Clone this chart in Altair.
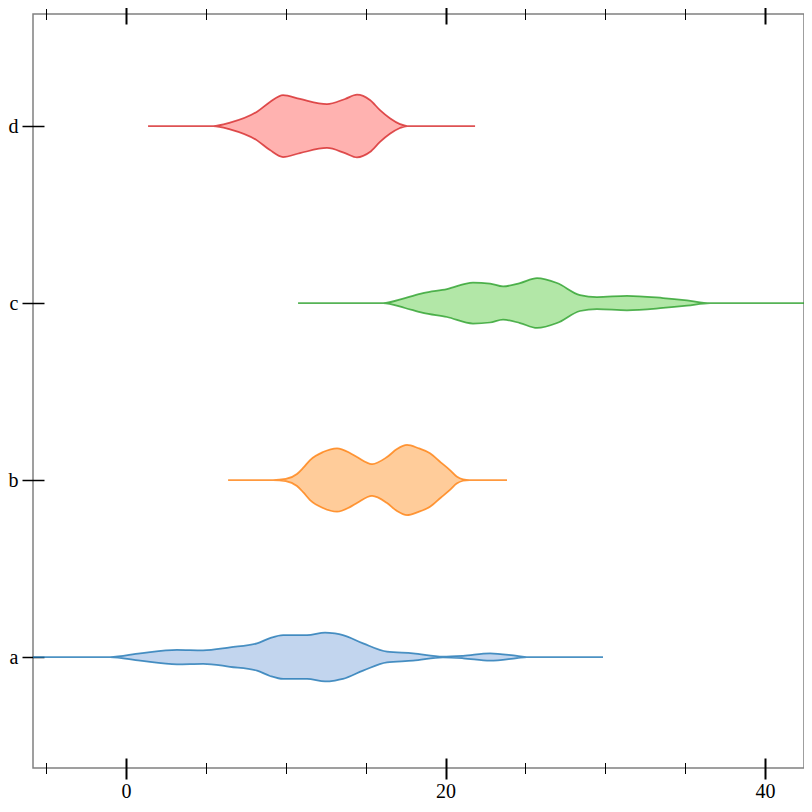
import altair as alt
import pandas as pd

categories = ["a", "b", "c", "d"]

# violin profiles: x position (data units) and half-width (in category steps)
a_x = [-6.5, -1.00, 0.88, 3.19, 4.82, 6.51, 8.20, 9.01, 9.83, 11.33, 12.46, 13.08, 13.58, 14.84, 16.34, 17.97, 19.84, 21.10, 22.79, 24.48, 25.10, 29.86]
a_w = [0, 0, 0.021, 0.041, 0.038, 0.055, 0.077, 0.107, 0.124, 0.124, 0.138, 0.133, 0.124, 0.077, 0.030, 0.021, 0.002, 0.007, 0.021, 0.006, 0, 0]

b_x = [6.39, 9.20, 10.00, 10.70, 11.10, 11.52, 12.33, 13.21, 14.02, 14.46, 15.40, 16.34, 16.96, 17.59, 18.28, 19.03, 19.70, 20.28, 20.70, 21.10, 21.50, 23.85]
b_w = [0, 0, 0.006, 0.034, 0.070, 0.113, 0.158, 0.179, 0.153, 0.130, 0.090, 0.130, 0.175, 0.198, 0.181, 0.151, 0.100, 0.056, 0.020, 0.004, 0, 0]

c_x = [10.77, 16.09, 17.46, 18.59, 20.09, 21.72, 22.79, 23.60, 24.66, 25.73, 26.98, 28.42, 29.48, 31.36, 33.62, 35.12, 36.56, 43.5]
c_w = [0, 0, 0.028, 0.056, 0.079, 0.116, 0.110, 0.094, 0.113, 0.141, 0.113, 0.045, 0.034, 0.041, 0.028, 0.015, 0, 0]

d_x = [1.38, 5.45, 6.51, 8.20, 9.01, 9.83, 10.89, 12.58, 13.71, 14.46, 15.27, 15.90, 16.52, 17.15, 17.60, 21.85]
d_w = [0, 0, 0.019, 0.081, 0.136, 0.175, 0.153, 0.124, 0.153, 0.177, 0.147, 0.090, 0.044, 0.011, 0, 0]

fill_colors = ["#aec7e8", "#ffbb78", "#98df8a", "#ff9896"]
stroke_colors = ["#1f77b4", "#ff7f0e", "#2ca02c", "#d62728"]

major_ticks = [0, 20, 40]
minor_ticks = [-5, 5, 10, 15, 25, 30, 35]

rows = []
for i, (cat, xs, ws) in enumerate(zip(categories, [a_x, b_x, c_x, d_x], [a_w, b_w, c_w, d_w])):
    for x, w in zip(xs, ws):
        rows.append({"cat": cat, "x": x, "lo": i - w, "hi": i + w})
df = pd.DataFrame(rows)

xscale = alt.Scale(domain=[-5.822, 42.44], nice=False, zero=False)
yscale = alt.Scale(domain=[-0.627, 3.633], nice=False, zero=False)

FONT = "Liberation Serif"

base = alt.Chart(df)

violins = base.mark_area(
    interpolate="monotone", orient="vertical", clip=True,
    fillOpacity=0.75, strokeOpacity=0.8, strokeWidth=1.75,
).encode(
    x=alt.X("x:Q", scale=xscale, axis=alt.Axis(
        orient="bottom", values=major_ticks, offset=-10, tickSize=21, tickWidth=2,
        tickColor="black", domain=False, grid=False, labelFont=FONT, labelFontSize=20,
        labelColor="black", labelPadding=2, labelFlush=False, title=None)),
    y=alt.Y("lo:Q", scale=yscale, axis=alt.Axis(
        orient="left", values=[0, 1, 2, 3], offset=-11, tickSize=22, tickWidth=1.5,
        tickColor="black", domain=False, grid=False, labelFont=FONT, labelFontSize=20,
        labelColor="black", labelPadding=4, labelFlush=False, title=None,
        labelExpr="['a','b','c','d'][datum.value]")),
    y2="hi:Q",
    fill=alt.Fill("cat:N", scale=alt.Scale(domain=categories, range=fill_colors), legend=None),
    stroke=alt.Stroke("cat:N", scale=alt.Scale(domain=categories, range=stroke_colors), legend=None),
    detail="cat:N",
)

def axis_layer(orient, values, offset, size, width):
    return base.mark_point(opacity=0).encode(
        x=alt.X("x:Q", scale=xscale, axis=alt.Axis(
            orient=orient, values=values, offset=offset, tickSize=size, tickWidth=width,
            tickColor="black", domain=False, grid=False, labels=False, title=None)),
        y=alt.Y("lo:Q", scale=yscale, axis=None),
    )

layers = [
    violins,
    axis_layer("bottom", minor_ticks, -5.5, 11, 1),
    axis_layer("top", major_ticks, -10, 21, 2),
    axis_layer("top", minor_ticks, -5.5, 11, 1),
]

chart = alt.layer(*layers).resolve_axis(x="independent", y="independent").properties(
    width=771, height=754,
    autosize=alt.AutoSizeParams(type="none"),
    padding={"left": 25, "top": 6, "right": 0, "bottom": 36},
).configure_view(stroke="#808080", strokeWidth=1.5)

chart.save("out.html", embed_options={"renderer": "svg", "actions": False})
